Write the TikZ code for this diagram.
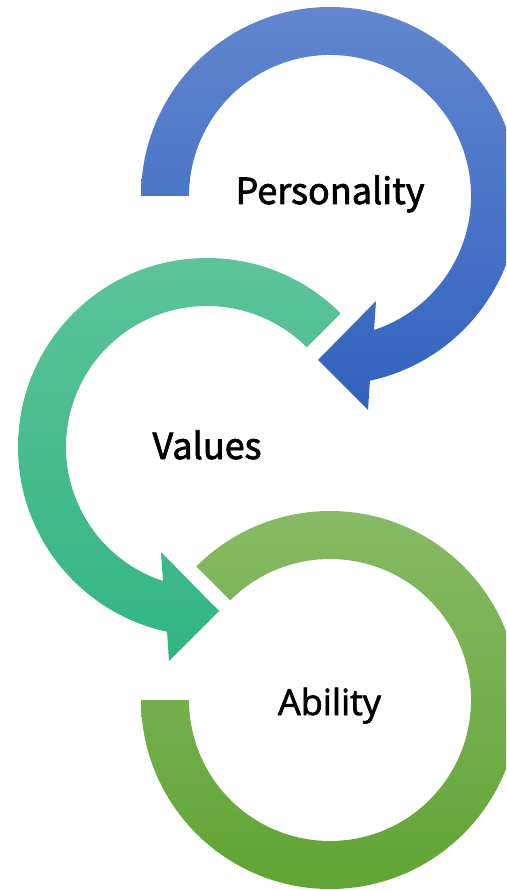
\documentclass[tikz,border=0pt]{standalone}
\usepackage{fontspec}
\setmainfont{Noto Sans CJK JP}[FakeBold=2]
\newfontfamily\abilityfont{Open Sans}[FakeBold=1.8]
\usetikzlibrary{calc}

\definecolor{blueTop}{HTML}{6286CF}
\definecolor{blueBot}{HTML}{3262BE}
\definecolor{tealTop}{HTML}{5FC49B}
\definecolor{tealBot}{HTML}{32B483}
\definecolor{greenTop}{HTML}{87BA65}
\definecolor{greenBot}{HTML}{61A434}

\begin{document}
\begin{tikzpicture} [x=1pt,y=1pt]
    \tikzset {
      stagetext/.style={anchor=base,inner sep=0pt,font=\fontsize{36}{36}\selectfont},
      bluearrow/.style={top color=blueTop,bottom color=blueBot,draw=none},
      tealarrow/.style={top color=tealTop,bottom color=tealBot,draw=none},
      greenring/.style={top color=greenTop,bottom color=greenBot,draw=none}
    }
    \useasboundingbox (0,0) rectangle (506,-890);
    \clip (0,0) rectangle (506,-890);
    \coordinate (pc) at (330,-196);
    \coordinate (vc) at (207,-447);
    \coordinate (ac) at (330,-700);

    \path [bluearrow] ([shift={(180:189)}]pc) arc [start angle=180, end angle=-77.8, radius=189]
      -- ([shift={(38,-214)}]pc) -- ([shift={(-12,-164)}]pc) -- ([shift={(46,-105)}]pc)
      -- ([shift={(-71.8:141)}]pc) arc [start angle=-71.8, end angle=180, radius=141] -- cycle;

    \path [tealarrow] ([shift={(45:189)}]vc) arc [start angle=45, end angle=257.8, radius=189]
      -- ([shift={(-38,-214)}]vc) -- ([shift={(12,-164)}]vc) -- ([shift={(-46,-105)}]vc)
      -- ([shift={(251.8:141)}]vc) arc [start angle=251.8, end angle=45, radius=141] -- cycle;

    \path [greenring] ([shift={(180:189)}]ac) arc [start angle=180, end angle=495, radius=189]
      -- ([shift={(135:141)}]ac) arc [start angle=495, end angle=180, radius=141] -- cycle;

    \node [stagetext] (personality) at (330,-204) {Personality};
    \node [stagetext] (values) at (207,-459) {Values};
    \node [stagetext, font=\abilityfont\fontsize{36}{36}\selectfont] (ability) at (329.5,-715) {Ability};
  \end{tikzpicture}
\end{document}
